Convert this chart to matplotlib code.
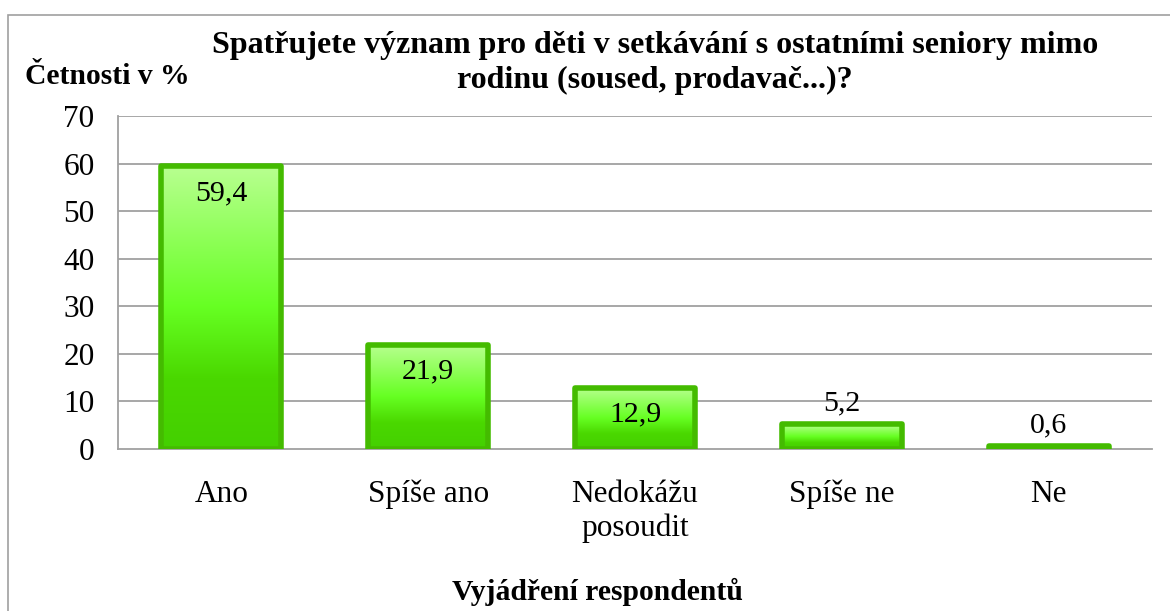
import matplotlib
matplotlib.use("Agg")
import matplotlib.pyplot as plt
import numpy as np
from matplotlib.colors import LinearSegmentedColormap
from matplotlib.patches import Rectangle

categories = ["Ano", "Spíše ano", "Nedokážu\nposoudit", "Spíše ne", "Ne"]
values = [59.4, 21.9, 12.9, 5.2, 0.6]
yticks = [0, 10, 20, 30, 40, 50, 60, 70]
title = "Spatřujete význam pro děti v setkávání s ostatními seniory mimo\nrodinu (soused, prodavač...)?"
ylabel = "Četnosti v %"
xlabel = "Vyjádření respondentů"

plt.rcParams['font.family'] = ['Liberation Serif', 'DejaVu Serif']

fig = plt.figure(figsize=(11.70, 6.11), dpi=100)
# outer chart frame (cut off at right and bottom like the reference)
fig.patches.append(Rectangle((8/1170, -0.05), 1.1, 1 - 15/611 + 0.05,
                             transform=fig.transFigure, fill=False,
                             edgecolor='#a0a0a0', linewidth=1.2))

ax = fig.add_axes([118/1170, 1 - 449/611, (1152 - 118)/1170, (449 - 116)/611])
ax.set_xlim(-0.5, len(categories) - 0.5)
ax.set_ylim(0, 70)
ax.set_yticks(yticks)
ax.set_yticklabels([str(t) for t in yticks], fontsize=22.5)
ax.set_xticks(range(len(categories)))
ax.set_xticklabels(categories, fontsize=22.5, linespacing=1.2)
ax.tick_params(axis='both', length=0)
ax.tick_params(axis='y', pad=17)
ax.tick_params(axis='x', pad=22)
for t in yticks[1:]:
    ax.axhline(t, color='#a0a0a0', linewidth=1.3, zorder=0)
for s in ['top', 'right']:
    ax.spines[s].set_visible(False)
for s in ['left', 'bottom']:
    ax.spines[s].set_color('#a0a0a0')
    ax.spines[s].set_linewidth(1.3)

cmap = LinearSegmentedColormap.from_list(
    'g', [(0.0, '#44d000'), (0.25, '#4ad800'), (0.5, '#66ff22'), (1.0, '#b8ff90')])
grad = np.linspace(0, 1, 256).reshape(-1, 1)
w = 0.58
for i, v in enumerate(values):
    ax.imshow(grad, extent=[i - w/2, i + w/2, 0, v], origin='lower', cmap=cmap,
              aspect='auto', zorder=2)
    ax.add_patch(Rectangle((i - w/2, 0), w, v, fill=False, edgecolor='#44bb00',
                           linewidth=4, zorder=3, joinstyle='round'))
    lbl = f"{v:.1f}".replace('.', ',')
    if v > 10:
        ax.text(i, v - 5.6, lbl, ha='center', va='center', fontsize=21.5, zorder=4)
    else:
        ax.text(i, v + 4.3, lbl, ha='center', va='center', fontsize=21.5, zorder=4)
ax.set_xlim(-0.5, len(categories) - 0.5)
ax.set_ylim(0, 70)

fig.text(655/1170, 1 - 63/611, title, ha='center', va='center', fontsize=23,
         fontweight='bold', linespacing=1.3)
fig.text(25/1170, 1 - 76/611, ylabel, ha='left', va='center', fontsize=21.3,
         fontweight='bold')
fig.text(597/1170, 1 - 592/611, xlabel, ha='center', va='center', fontsize=21.3,
         fontweight='bold')

fig.savefig('out.png', dpi=100)
